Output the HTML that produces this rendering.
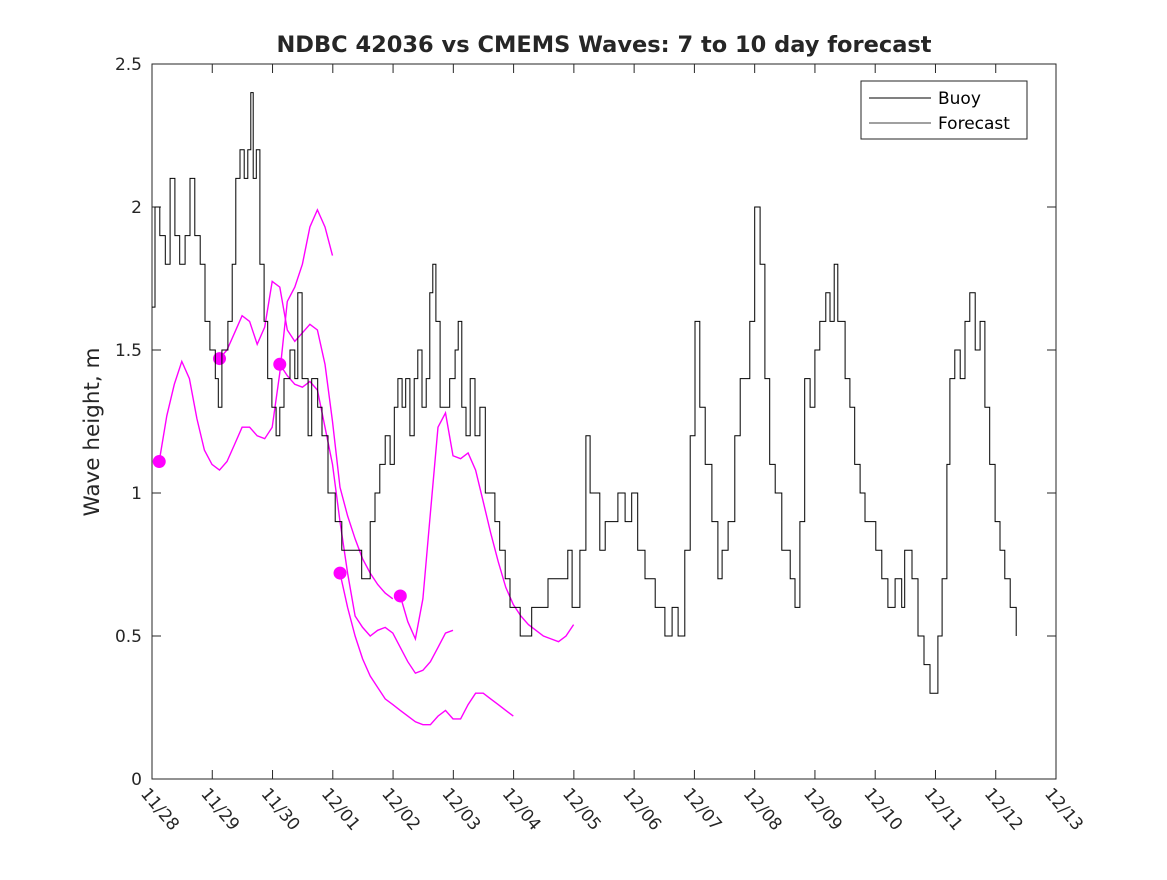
<!DOCTYPE html>
<html><head><meta charset="utf-8"><style>
body{margin:0;background:#fff;}
svg text{font-family:"DejaVu Sans","Liberation Sans",sans-serif;fill:#262626;}
</style></head><body>
<svg id="chart" width="1167" height="875" xmlns="http://www.w3.org/2000/svg">
<rect width="1167" height="875" fill="#fff"/>
<text x="604" y="52" text-anchor="middle" font-size="22.5" font-weight="bold" fill="#000">NDBC 42036 vs CMEMS Waves: 7 to 10 day forecast</text>
<text transform="translate(99,432) rotate(-90)" text-anchor="middle" font-size="21.5">Wave height, m</text>
<rect x="152" y="64" width="904" height="715" fill="none" stroke="#262626" stroke-width="1"/>
<g id="axes"></g>
<g id="series"></g>
<g>
<rect x="861" y="81" width="166" height="58" fill="#fff" stroke="#262626"/>
<line x1="869" y1="98" x2="931" y2="98" stroke="#000"/>
<text x="938" y="104" font-size="17" style="fill:#000">Buoy</text>
<line x1="869" y1="123" x2="931" y2="123" stroke="#000" stroke-width="0.8"/>
<text x="938" y="129" font-size="17" style="fill:#000">Forecast</text>
</g>
</svg>
<script>
const xTickLabels=["11/28","11/29","11/30","12/01","12/02","12/03","12/04","12/05","12/06","12/07","12/08","12/09","12/10","12/11","12/12","12/13"];
const yTicks=[0,0.5,1,1.5,2,2.5];
const yTickLabels=["0","0.5","1","1.5","2","2.5"];
const buoyDays=[0,.05,.13,.22,.30,.38,.46,.55,.63,.71,.80,.88,.96,1.05,1.10,1.16,1.26,1.33,1.39,1.46,1.53,1.59,1.64,1.68,1.73,1.79,1.86,1.92,1.99,2.06,2.12,2.19,2.29,2.37,2.42,2.49,2.59,2.65,2.75,2.82,2.92,3.04,3.15,3.25,3.37,3.48,3.62,3.70,3.78,3.87,3.95,4.02,4.08,4.15,4.21,4.28,4.35,4.41,4.48,4.55,4.61,4.66,4.71,4.78,4.86,4.94,5.03,5.08,5.14,5.21,5.28,5.36,5.44,5.53,5.61,5.69,5.77,5.86,5.94,6.02,6.11,6.24,6.30,6.44,6.57,6.69,6.80,6.90,6.97,7.00,7.10,7.20,7.27,7.35,7.43,7.52,7.63,7.73,7.85,7.96,8.06,8.18,8.35,8.51,8.63,8.73,8.84,8.93,9.01,9.09,9.18,9.29,9.39,9.46,9.56,9.67,9.76,9.84,9.92,10.00,10.09,10.17,10.25,10.34,10.45,10.59,10.67,10.75,10.83,10.92,11.00,11.08,11.18,11.25,11.32,11.38,11.50,11.58,11.66,11.75,11.83,11.91,12.01,12.11,12.21,12.33,12.44,12.49,12.61,12.71,12.81,12.91,12.99,13.04,13.11,13.19,13.24,13.32,13.41,13.49,13.57,13.66,13.74,13.82,13.90,13.99,14.07,14.15,14.24,14.34];
const buoyHeights=[1.65,2.0,1.9,1.8,2.1,1.9,1.8,1.9,2.1,1.9,1.8,1.6,1.5,1.4,1.3,1.5,1.6,1.8,2.1,2.2,2.1,2.2,2.4,2.1,2.2,1.8,1.6,1.4,1.3,1.2,1.3,1.4,1.5,1.4,1.7,1.4,1.2,1.4,1.3,1.2,1.0,0.9,0.8,0.8,0.8,0.7,0.9,1.0,1.1,1.2,1.1,1.3,1.4,1.3,1.4,1.2,1.4,1.5,1.3,1.4,1.7,1.8,1.6,1.3,1.3,1.4,1.5,1.6,1.3,1.2,1.4,1.2,1.3,1.0,1.0,0.9,0.8,0.7,0.6,0.6,0.5,0.5,0.6,0.6,0.7,0.7,0.7,0.8,0.6,0.6,0.8,1.2,1.0,1.0,0.8,0.9,0.9,1.0,0.9,1.0,0.8,0.7,0.6,0.5,0.6,0.5,0.8,1.2,1.6,1.3,1.1,0.9,0.7,0.8,0.9,1.2,1.4,1.4,1.6,2.0,1.8,1.4,1.1,1.0,0.8,0.7,0.6,0.9,1.4,1.3,1.5,1.6,1.7,1.6,1.8,1.6,1.4,1.3,1.1,1.0,0.9,0.9,0.8,0.7,0.6,0.7,0.6,0.8,0.7,0.5,0.4,0.3,0.3,0.5,0.7,1.1,1.4,1.5,1.4,1.6,1.7,1.5,1.6,1.3,1.1,0.9,0.8,0.7,0.6,0.5];
const forecastStarts=[0.12,1.12,2.12,3.12,4.12];
const forecastStepDays=0.125;
const forecast1=[1.11,1.27,1.38,1.46,1.40,1.26,1.15,1.10,1.08,1.11,1.17,1.23,1.23,1.20,1.19,1.23,1.42,1.67,1.72,1.80,1.93,1.99,1.93,1.83];
const forecast2=[1.47,1.50,1.56,1.62,1.60,1.52,1.58,1.74,1.72,1.57,1.53,1.56,1.59,1.57,1.45,1.25,1.02,0.92,0.84,0.77,0.72,0.68,0.65,0.63];
const forecast3=[1.45,1.41,1.38,1.37,1.39,1.36,1.23,1.10,0.90,0.72,0.57,0.53,0.50,0.52,0.53,0.51,0.46,0.41,0.37,0.38,0.41,0.46,0.51,0.52];
const forecast4=[0.72,0.60,0.50,0.42,0.36,0.32,0.28,0.26,0.24,0.22,0.20,0.19,0.19,0.22,0.24,0.21,0.21,0.26,0.30,0.30,0.28,0.26,0.24,0.22];
const forecast5=[0.64,0.55,0.49,0.63,0.93,1.23,1.28,1.13,1.12,1.14,1.08,0.97,0.86,0.76,0.67,0.61,0.57,0.54,0.52,0.50,0.49,0.48,0.50,0.54];
const forecasts=[forecast1,forecast2,forecast3,forecast4,forecast5];

const NS="http://www.w3.org/2000/svg";
const X0=152,X1=1056,Y0=779,Y1=64;
const xs=d=>X0+d*(X1-X0)/15;
const ys=v=>Y0-v*(Y0-Y1)/2.5;
function mk(tag,attrs,parent){const e=document.createElementNS(NS,tag);for(const k in attrs)e.setAttribute(k,attrs[k]);parent.appendChild(e);return e;}
const ax=document.getElementById('axes');
xTickLabels.forEach((lab,i)=>{
  const x=xs(i);
  const t1=mk('line',{x1:x,y1:Y0,x2:x,y2:Y0-9,stroke:'#262626'},ax);
  
  
  const t2=mk('line',{x1:x,y1:Y1,x2:x,y2:Y1+9,stroke:'#262626'},ax);
  
  
  const tx=mk('text',{transform:`translate(${x-12},${Y0+15}) rotate(50)`,'font-size':'17'},ax);
  tx.textContent=lab;
  
  
});
yTicks.forEach((v,i)=>{
  const y=ys(v);
  const t1=mk('line',{x1:X0,y1:y,x2:X0+9,y2:y,stroke:'#262626'},ax);
  
  
  const t2=mk('line',{x1:X1,y1:y,x2:X1-9,y2:y,stroke:'#262626'},ax);
  
  
  const tx=mk('text',{x:X0-10,y:y+6,'text-anchor':'end','font-size':'17'},ax);
  tx.textContent=yTickLabels[i];
  
  
});
const sg=document.getElementById('series');
forecasts.forEach((arr,fi)=>{
  const pts=arr.map((v,j)=>xs(forecastStarts[fi]+j*forecastStepDays).toFixed(1)+','+ys(v).toFixed(1)).join(' ');
  const pl=mk('polyline',{points:pts,fill:'none',stroke:'#ff00ff','stroke-width':'1.4'},sg);
  
  
  const c=mk('circle',{cx:xs(forecastStarts[fi]),cy:ys(arr[0]),r:6.5,fill:'#ff00ff'},sg);
  
  
});
let bp=[];
buoyDays.forEach((d,i)=>{
  if(i>0)bp.push(xs(d).toFixed(1)+','+ys(buoyHeights[i-1]).toFixed(1));
  bp.push(xs(d).toFixed(1)+','+ys(buoyHeights[i]).toFixed(1));
});
const bl=mk('polyline',{points:bp.join(' '),fill:'none',stroke:'#000','stroke-width':'1'},sg);


</script>
</body></html>
